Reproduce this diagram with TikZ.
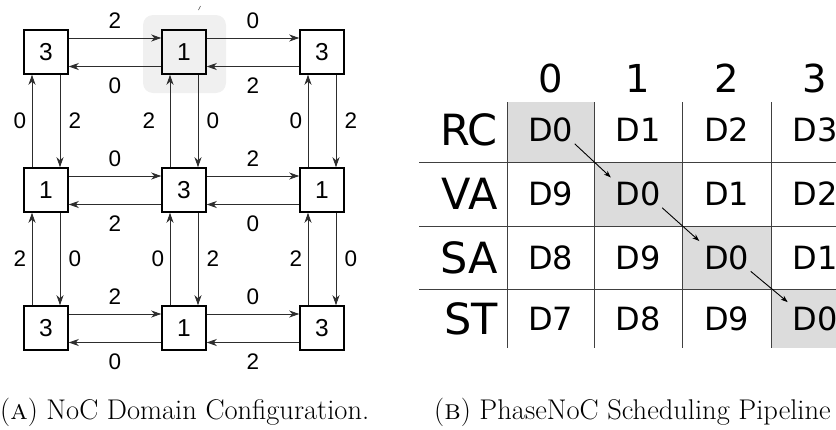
\documentclass[tikz,border=0pt]{standalone}
\usepackage{fontspec}
\newfontfamily\gradefont{Liberation Sans}
\newfontfamily\tabelafont{DejaVu Sans}
\usetikzlibrary{arrows.meta}
\definecolor{sombra}{RGB}{240,240,240}
\definecolor{cinzacel}{RGB}{220,220,220}
\definecolor{traco}{RGB}{45,45,45}

\begin{document}
\begin{tikzpicture}[x=1pt,y=-1pt,
    roteador/.style={draw,line width=1.5pt,minimum size=44pt,inner sep=0pt,
                     font=\gradefont\fontsize{24.5}{24.5}\selectfont},
    ligacao/.style={-{Stealth[length=10pt,width=7pt,inset=3pt]},line width=0.8pt,traco},
    peso/.style={font=\gradefont\fontsize{22.5}{22.5}\selectfont,text=black,inner sep=0pt},
    celula/.style={font=\tabelafont\fontsize{32}{32}\selectfont,inner sep=1.5pt},
    cabeca/.style={font=\tabelafont\fontsize{38.5}{38.5}\selectfont,inner sep=0pt},
    estagio/.style={font=\tabelafont\fontsize{43}{43}\selectfont,inner sep=0pt,anchor=east},
    grade/.style={line width=0.9pt,black!75},
    fluxo/.style={-{Stealth[length=7pt,width=5pt,inset=2pt]},line width=0.9pt,shorten >=4pt},
    legenda/.style={font=\fontsize{28.5}{28.5}\selectfont,inner sep=0pt,anchor=base west}]
  \useasboundingbox (0,0) rectangle (836,429);

  % (a) malha 3x3 de roteadores
  \fill[sombra,rounded corners=10pt] (143,15) rectangle (226,93);
  \draw[black!70,line width=0.6pt] (198.5,10) -- (200.5,6);
  \foreach \i in {0,1,2}
    \foreach \j in {0,1,2} {
      \pgfmathtruncatemacro\v{mod(\i+\j,2)==0 ? 3 : 1}
      \node[roteador] (r\i\j) at (46+138*\j,52+138*\i) {\v};
    }
  \foreach \a/\b/\t/\u in {r00/r01/2/0,r01/r02/0/2,r10/r11/0/2,
                           r11/r12/2/0,r20/r21/2/0,r21/r22/0/2} {
    \draw[ligacao] ([yshift=14pt]\a.east) -- node[peso,yshift=17pt] {\t} ([yshift=14pt]\b.west);
    \draw[ligacao] ([yshift=-14.5pt]\b.west) -- node[peso,yshift=-19pt] {\u} ([yshift=-14.5pt]\a.east);
  }
  \foreach \a/\b/\l/\r/\s in {r00/r10/0/2/-12,r01/r11/2/0/-21,r02/r12/0/2/-12,
                              r10/r20/2/0/-12,r11/r21/0/2/-12,r12/r22/2/0/-12} {
    \draw[ligacao] ([xshift=-14pt]\b.north) -- node[peso,xshift=\s pt] {\l} ([xshift=-14pt]\a.south);
    \draw[ligacao] ([xshift=14pt]\a.south) -- node[peso,xshift=15pt] {\r} ([xshift=14pt]\b.north);
  }

  % (b) pipeline por estagio
  \foreach \x/\y/\X/\Y in {507/102/594/162,594/162/682/226,682/226/771/289,771/289/860/348}
    \fill[cinzacel] (\x,\y) rectangle (\X,\Y);
  \foreach \x in {507,594,682,771}
    \draw[grade] (\x,102) -- (\x,348);
  \foreach \y in {162,226,289}
    \draw[grade] (419,\y) -- (860,\y);
  \foreach \j/\x in {0/550.5,1/638,2/726.5,3/815}
    \node[cabeca] (h\j) at (\x,78) {\j};
  \foreach \i/\y/\e in {0/130/RC,1/194/VA,2/257.5/SA,3/318.5/ST} {
    \node[estagio] (e\i) at (498,\y) {\e};
    \foreach \j/\x in {0/550.5,1/638,2/726.5,3/815} {
      \pgfmathtruncatemacro\v{mod(\j-\i+10,10)}
      \node[celula] (d\i\j) at (\x,\y) {D\v};
    }
  }
  \foreach \u/\v in {d00/d11,d11/d22,d22/d33}
    \draw[fluxo] (\u.south east) -- (\v.north west);

  % legendas
  \node[legenda] (capa) at (0,419) {(\textsc{a}) NoC Domain Configuration.};
  \node[legenda] (capb) at (434,419) {(\textsc{b}) PhaseNoC Scheduling Pipeline};
\end{tikzpicture}
\end{document}
